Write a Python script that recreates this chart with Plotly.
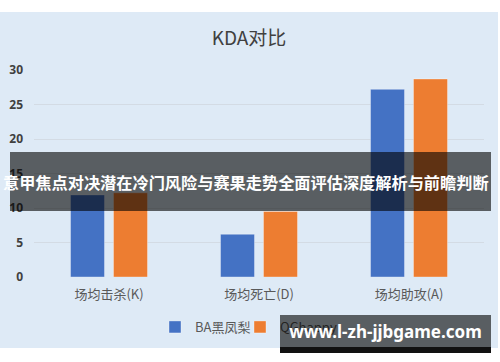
import plotly.graph_objects as go

categories = ["场均击杀(K)", "场均死亡(D)", "场均助攻(A)"]
series_names = ["BA黑凤梨", "QGhappy"]
ba_values = [11.9, 6.2, 27.2]
qg_values = [12.2, 9.5, 28.7]
y_ticks = [0, 5, 10, 15, 20, 25, 30]
title_text = "KDA对比"
banner_text = "意甲焦点对决潜在冷门风险与赛果走势全面评估深度解析与前瞻判断"
watermark_text = "www.l-zh-jjbgame.com"

W, H = 500, 362
L, R, T, B = 34, 16, 70, 85
PW, PH = W - L - R, H - T - B


def px(x):
    return (x - L) / PW


def py(y):
    return (H - B - y) / PH


CJK = "Noto Sans CJK SC"

fig = go.Figure()
fig.add_trace(go.Bar(x=categories, y=ba_values, name=series_names[0], legend="legend",
                     marker=dict(color="#4472c4", line=dict(color="rgba(255,255,255,0.35)", width=1))))
fig.add_trace(go.Bar(x=categories, y=qg_values, name=series_names[1], legend="legend2",
                     marker=dict(color="#ed7d31", line=dict(color="rgba(255,255,255,0.35)", width=1))))

shapes = [
    # chart area background
    dict(type="rect", xref="paper", yref="paper", x0=px(0), x1=px(498), y0=py(348), y1=py(12),
         fillcolor="#deeaf6", line=dict(width=0), layer="below"),
    # banner
    dict(type="rect", xref="paper", yref="paper", x0=px(10), x1=px(491), y0=py(211), y1=py(152),
         fillcolor="rgba(0,0,0,0.6)", line=dict(width=0), layer="above"),
    # watermark bottom strip
    dict(type="rect", xref="paper", yref="paper", x0=px(280), x1=px(491), y0=py(353), y1=py(347),
         fillcolor="#111111", line=dict(width=0), layer="above"),
]

annotations = [
    dict(text=banner_text, xref="paper", yref="paper", x=px(246), y=py(182), xanchor="center",
         yanchor="middle", showarrow=False,
         font=dict(family=CJK, size=16.2, color="white", weight="bold")),
    dict(text=watermark_text, xref="paper", yref="paper", x=px(385.5), y=py(331), xanchor="center",
         yanchor="middle", showarrow=False, width=211, height=32, borderpad=0, borderwidth=0,
         bgcolor="rgba(0,0,0,0.6)",
         font=dict(family="Noto Sans", size=17, color="white", weight="bold")),
]

legend_common = dict(orientation="h", yanchor="middle", y=py(327), xanchor="left",
                     font=dict(family=CJK, size=13, color="#595959"), bgcolor="rgba(0,0,0,0)",
                     borderwidth=0)

fig.update_layout(
    width=W, height=H,
    margin=dict(l=L, r=R, t=T, b=B, autoexpand=False),
    paper_bgcolor="white",
    plot_bgcolor="rgba(0,0,0,0)",
    title=dict(text=title_text, x=249 / W, xanchor="center", y=(H - 38) / H, yanchor="middle",
               font=dict(family=CJK, size=19, color="#404040")),
    barmode="group",
    bargap=0.4267,
    bargroupgap=0.209,
    showlegend=True,
    legend=dict(x=px(155), **legend_common),
    legend2=dict(x=px(240), **legend_common),
    xaxis=dict(showgrid=False, showline=False, zeroline=False, ticks="",
               tickfont=dict(family=CJK, size=13, color="#595959"), ticklabelstandoff=8),
    yaxis=dict(range=[0, 30], tickvals=y_ticks, showgrid=True, gridcolor="#d3dbe4", gridwidth=1,
               zeroline=False, showline=False, ticks="",
               tickfont=dict(family="Noto Sans", size=12, color="#404040", weight="bold"),
               ticklabelstandoff=10),
    shapes=shapes,
    annotations=annotations,
)

fig.write_html("out.html", config={"displayModeBar": False},
               post_script="document.body.style.margin='0';document.body.style.overflow='hidden';")
